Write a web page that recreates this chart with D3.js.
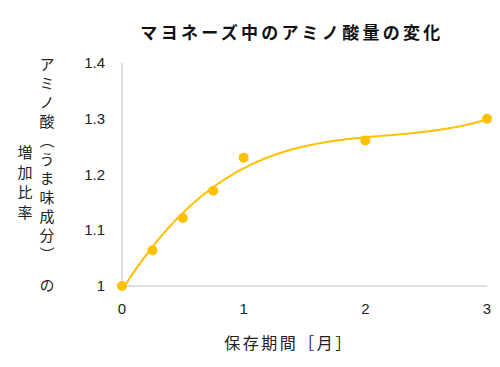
<!DOCTYPE html>
<html>
<head>
<meta charset="utf-8">
<script src="https://cdn.jsdelivr.net/npm/d3@7"></script>
<style>
  body { margin: 0; background: #fff; }
  svg { display: block; }
</style>
</head>
<body>
<script>
// data
const months = [0, 0.25, 0.5, 0.75, 1, 2, 3];
const ratios = [1.0, 1.064, 1.122, 1.171, 1.23, 1.261, 1.30];
const yTicks = [1, 1.1, 1.2, 1.3, 1.4];
const xTicks = [0, 1, 2, 3];

const width = 500, height = 367;
const gold = "#ffc000";
const jp = "'Noto Sans CJK JP', sans-serif";

const svg = d3.select("body").append("svg")
  .attr("width", width).attr("height", height);

const x = d3.scaleLinear().domain([0, 3]).range([122, 487]);
const y = d3.scaleLinear().domain([1, 1.4]).range([286, 63]);

// axis lines (no ticks)
svg.append("line")
  .attr("x1", x(0)).attr("x2", x(0)).attr("y1", y(1.4)).attr("y2", y(1))
  .attr("stroke", "#bfbfbf");
svg.append("line")
  .attr("x1", x(0)).attr("x2", x(3)).attr("y1", y(1)).attr("y2", y(1))
  .attr("stroke", "#bfbfbf");

svg.append("g").selectAll("text").data(yTicks).join("text")
  .attr("x", 105).attr("y", d => y(d) + 5)
  .attr("text-anchor", "end")
  .attr("font-family", "'Liberation Sans', Arial, sans-serif")
  .attr("font-size", 15).attr("fill", "#222")
  .text(d => d3.format("")(d));

svg.append("g").selectAll("text").data(xTicks).join("text")
  .attr("x", d => x(d)).attr("y", 314)
  .attr("text-anchor", "middle")
  .attr("font-family", "'Liberation Sans', Arial, sans-serif")
  .attr("font-size", 15).attr("fill", "#222")
  .text(d => d);

// polynomial (3rd order) trendline, least squares on the data
function polyfit(xs, ys, order) {
  const n = order + 1;
  const A = Array.from({ length: n }, () => new Array(n + 1).fill(0));
  xs.forEach((xi, k) => {
    for (let i = 0; i < n; i++) {
      for (let j = 0; j < n; j++) A[i][j] += Math.pow(xi, i + j);
      A[i][n] += Math.pow(xi, i) * ys[k];
    }
  });
  for (let i = 0; i < n; i++) {
    let p = i;
    for (let r = i + 1; r < n; r++) if (Math.abs(A[r][i]) > Math.abs(A[p][i])) p = r;
    [A[i], A[p]] = [A[p], A[i]];
    for (let r = 0; r < n; r++) {
      if (r === i) continue;
      const f = A[r][i] / A[i][i];
      for (let c = i; c <= n; c++) A[r][c] -= f * A[i][c];
    }
  }
  return A.map((row, i) => row[n] / row[i]);
}
const coef = polyfit(months, ratios, 3);
const trend = d3.range(0, 3.0001, 0.02).map(t => [t, coef.reduce((s, c, i) => s + c * Math.pow(t, i), 0)]);

svg.append("path")
  .datum(trend)
  .attr("fill", "none")
  .attr("stroke", gold)
  .attr("stroke-width", 2)
  .attr("d", d3.line().x(d => x(d[0])).y(d => y(d[1])).curve(d3.curveMonotoneX));

svg.append("g").selectAll("circle").data(months).join("circle")
  .attr("cx", d => x(d)).attr("cy", (d, i) => y(ratios[i]))
  .attr("r", 5).attr("fill", gold);

// titles
svg.append("text")
  .attr("x", 292).attr("y", 39)
  .attr("text-anchor", "middle")
  .attr("font-family", jp).attr("font-weight", "bold")
  .attr("font-size", 17).attr("letter-spacing", 3.3).attr("fill", "#111")
  .text("マヨネーズ中のアミノ酸量の変化");

svg.append("text")
  .attr("x", 289).attr("y", 349)
  .attr("text-anchor", "middle")
  .attr("font-family", jp)
  .attr("font-size", 16).attr("letter-spacing", 2.5).attr("fill", "#222")
  .text("保存期間［月］");

svg.append("text")
  .attr("x", 47).attr("y", 57)
  .style("writing-mode", "vertical-rl")
  .attr("font-family", jp)
  .attr("font-size", 15).attr("letter-spacing", 4).attr("fill", "#222")
  .text("アミノ酸（うま味成分）\u2002の");

svg.append("text")
  .attr("x", 25).attr("y", 145)
  .style("writing-mode", "vertical-rl")
  .attr("font-family", jp)
  .attr("font-size", 15).attr("letter-spacing", 5).attr("fill", "#222")
  .text("増加比率");
</script>
</body>
</html>
